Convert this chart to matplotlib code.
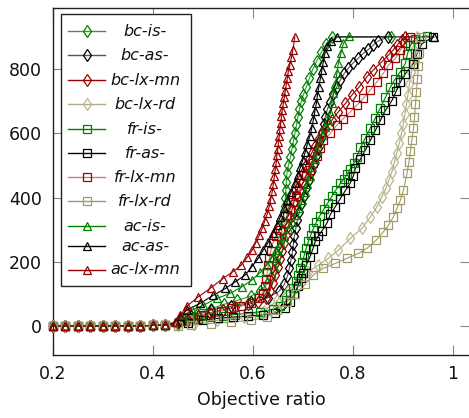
import matplotlib
matplotlib.use("Agg")
import matplotlib.pyplot as plt
from matplotlib.patches import Rectangle

flat = [(0.200, 1), (0.225, 1), (0.250, 1), (0.275, 1), (0.300, 1), (0.325, 1),
        (0.350, 1), (0.375, 1), (0.400, 2), (0.425, 3)]

bc_is = flat + [(0.449, 10), (0.463, 22), (0.489, 38), (0.516, 54), (0.543, 68), (0.569, 80),
        (0.596, 93), (0.615, 110), (0.628, 130), (0.636, 152), (0.642, 175), (0.647, 198),
        (0.651, 222), (0.654, 246), (0.657, 270), (0.658, 300), (0.660, 325), (0.662, 350),
        (0.664, 375), (0.665, 400), (0.666, 425), (0.667, 450), (0.668, 475), (0.671, 500),
        (0.675, 525), (0.678, 550), (0.681, 575), (0.684, 600), (0.687, 625), (0.690, 650),
        (0.693, 675), (0.697, 700), (0.701, 720), (0.707, 745), (0.713, 772), (0.720, 800),
        (0.728, 826), (0.737, 852), (0.747, 878), (0.759, 900), (0.877, 900)]

bc_as = flat + [(0.452, 12), (0.476, 30), (0.516, 50), (0.556, 62), (0.596, 74), (0.630, 88),
        (0.652, 108), (0.663, 130), (0.669, 155), (0.673, 180), (0.676, 205), (0.679, 230),
        (0.681, 255), (0.683, 280), (0.686, 305), (0.689, 330), (0.693, 355), (0.697, 380),
        (0.702, 405), (0.707, 430), (0.712, 455), (0.717, 480), (0.722, 505), (0.727, 530),
        (0.731, 555), (0.735, 580), (0.738, 605), (0.742, 630), (0.745, 652), (0.749, 675),
        (0.755, 698), (0.761, 722), (0.768, 745), (0.775, 766), (0.783, 787), (0.791, 803),
        (0.801, 820), (0.811, 834), (0.821, 849), (0.831, 861), (0.841, 875), (0.851, 888),
        (0.870, 900)]

bc_lx_mn = flat + [(0.450, 8), (0.470, 20), (0.490, 30), (0.515, 40), (0.540, 50), (0.565, 60),
        (0.590, 68), (0.610, 75), (0.626, 88), (0.634, 110), (0.640, 135), (0.645, 160),
        (0.650, 185), (0.655, 210), (0.659, 235), (0.663, 260), (0.667, 285), (0.671, 310),
        (0.675, 335), (0.678, 360), (0.682, 385), (0.686, 408), (0.690, 432), (0.695, 455),
        (0.700, 478), (0.706, 500), (0.712, 520), (0.718, 540), (0.724, 560), (0.731, 580),
        (0.738, 600), (0.745, 615), (0.758, 641), (0.771, 667), (0.785, 693), (0.798, 719),
        (0.813, 745), (0.828, 776), (0.841, 797), (0.858, 823), (0.872, 845), (0.881, 860),
        (0.889, 875), (0.898, 890), (0.905, 900)]

bc_lx_rd = flat + [(0.450, 4), (0.483, 8), (0.529, 18), (0.583, 29), (0.623, 48), (0.649, 80),
        (0.670, 110), (0.690, 140), (0.711, 169), (0.731, 190), (0.751, 211), (0.771, 237),
        (0.795, 273), (0.818, 304), (0.835, 340), (0.848, 371), (0.858, 402), (0.866, 430),
        (0.872, 455), (0.878, 480), (0.883, 510), (0.888, 540), (0.893, 570), (0.897, 600),
        (0.901, 630), (0.904, 660), (0.907, 690), (0.910, 720), (0.913, 755), (0.917, 790),
        (0.920, 825), (0.923, 860), (0.928, 900)]

fr_is = flat + [(0.465, 15), (0.490, 22), (0.515, 28), (0.540, 32), (0.565, 36), (0.590, 40),
        (0.615, 45), (0.640, 52), (0.655, 62), (0.667, 80), (0.675, 100), (0.681, 120),
        (0.686, 140), (0.691, 160), (0.695, 180), (0.699, 200), (0.703, 222), (0.707, 244),
        (0.711, 264), (0.716, 284), (0.721, 304), (0.727, 324), (0.734, 344), (0.742, 364),
        (0.750, 384), (0.758, 404), (0.766, 424), (0.775, 444), (0.782, 458), (0.788, 472),
        (0.795, 490), (0.802, 508), (0.808, 527), (0.815, 556), (0.825, 586), (0.835, 617),
        (0.845, 648), (0.855, 680), (0.865, 712), (0.875, 744), (0.885, 770), (0.895, 792),
        (0.905, 818), (0.909, 847), (0.915, 874), (0.925, 895), (0.948, 904)]

fr_as = flat + [(0.470, 10), (0.500, 18), (0.530, 24), (0.560, 28), (0.590, 31), (0.620, 35),
        (0.645, 40), (0.665, 55), (0.675, 75), (0.683, 100), (0.690, 125), (0.696, 150),
        (0.700, 165), (0.707, 190), (0.714, 215), (0.720, 240), (0.725, 265), (0.731, 281),
        (0.738, 296), (0.748, 320), (0.755, 348), (0.765, 372), (0.775, 397), (0.785, 422),
        (0.795, 446), (0.801, 468), (0.805, 491), (0.815, 520), (0.825, 548), (0.835, 578),
        (0.845, 609), (0.855, 640), (0.865, 671), (0.878, 702), (0.887, 733), (0.895, 760),
        (0.905, 786), (0.921, 817), (0.928, 848), (0.938, 879), (0.961, 900)]

fr_lx_mn = flat + [(0.456, 15), (0.476, 28), (0.496, 36), (0.516, 42), (0.536, 48), (0.556, 55),
        (0.576, 62), (0.596, 72), (0.612, 86), (0.620, 104), (0.624, 124), (0.627, 146),
        (0.629, 168), (0.631, 190), (0.633, 212), (0.636, 235), (0.640, 258), (0.646, 280),
        (0.655, 300), (0.664, 320), (0.668, 345), (0.675, 365), (0.680, 385), (0.686, 405),
        (0.693, 425), (0.700, 445), (0.707, 466), (0.714, 487), (0.721, 508), (0.728, 530),
        (0.735, 553), (0.741, 579), (0.755, 600), (0.768, 626), (0.781, 646), (0.795, 667),
        (0.808, 688), (0.821, 709), (0.835, 735), (0.848, 760), (0.861, 787), (0.871, 812),
        (0.885, 833), (0.895, 859), (0.905, 880), (0.915, 901)]

fr_lx_rd = flat + [(0.450, 1), (0.476, 3), (0.516, 8), (0.556, 12), (0.596, 18), (0.629, 28),
        (0.649, 50), (0.668, 75), (0.685, 100), (0.705, 130), (0.721, 159), (0.741, 180),
        (0.765, 195), (0.788, 211), (0.811, 226), (0.828, 242), (0.847, 268), (0.861, 294),
        (0.871, 314), (0.881, 340), (0.888, 366), (0.895, 392), (0.901, 423), (0.908, 475),
        (0.912, 510), (0.915, 545), (0.918, 580), (0.921, 615), (0.923, 650), (0.925, 690),
        (0.927, 730), (0.929, 770), (0.931, 810), (0.933, 850), (0.936, 900)]

ac_is = flat + [(0.447, 12), (0.460, 32), (0.478, 50), (0.501, 65), (0.528, 86), (0.555, 102),
        (0.578, 122), (0.598, 143), (0.615, 167), (0.628, 190), (0.638, 213), (0.646, 236),
        (0.654, 258), (0.662, 280), (0.670, 302), (0.678, 324), (0.686, 346), (0.693, 368),
        (0.699, 392), (0.704, 418), (0.709, 443), (0.714, 468), (0.719, 494), (0.724, 519),
        (0.729, 544), (0.734, 570), (0.738, 595), (0.745, 620), (0.751, 641), (0.755, 662),
        (0.758, 693), (0.761, 724), (0.765, 755), (0.768, 787), (0.771, 818), (0.776, 849),
        (0.781, 880), (0.793, 904)]

ac_as = flat + [(0.447, 12), (0.455, 30), (0.468, 50), (0.495, 71), (0.521, 96), (0.545, 117),
        (0.565, 138), (0.585, 159), (0.598, 185), (0.611, 211), (0.621, 237), (0.631, 262),
        (0.640, 289), (0.648, 314), (0.655, 340), (0.663, 366), (0.669, 392), (0.677, 418),
        (0.684, 444), (0.690, 470), (0.695, 494), (0.700, 518), (0.705, 543), (0.709, 567),
        (0.714, 592), (0.718, 618), (0.721, 643), (0.724, 668), (0.727, 694), (0.729, 719),
        (0.732, 745), (0.735, 771), (0.738, 797), (0.741, 823), (0.744, 849), (0.749, 872),
        (0.757, 888), (0.769, 900), (0.962, 900)]

ac_lx_mn = flat + [(0.445, 12), (0.455, 34), (0.468, 62), (0.491, 91), (0.517, 120), (0.540, 148),
        (0.560, 169), (0.577, 190), (0.589, 214), (0.599, 237), (0.606, 260), (0.613, 283),
        (0.619, 305), (0.624, 328), (0.629, 351), (0.633, 373), (0.636, 397), (0.639, 420),
        (0.641, 443), (0.643, 466), (0.645, 489), (0.647, 511), (0.648, 532), (0.650, 552),
        (0.651, 572), (0.653, 593), (0.654, 613), (0.656, 633), (0.657, 653), (0.659, 673),
        (0.661, 693), (0.663, 713), (0.665, 733), (0.667, 753), (0.669, 773), (0.671, 793),
        (0.674, 813), (0.677, 836), (0.680, 860), (0.684, 900)]

labels = ["bc-is-", "bc-as-", "bc-lx-mn", "bc-lx-rd", "fr-is-", "fr-as-", "fr-lx-mn",
          "fr-lx-rd", "ac-is-", "ac-as-", "ac-lx-mn"]
series = [bc_is, bc_as, bc_lx_mn, bc_lx_rd, fr_is, fr_as, fr_lx_mn, fr_lx_rd, ac_is, ac_as, ac_lx_mn]

GREEN = "#008000"
RED = "#990000"
styles = [
    dict(marker="d", mec=GREEN, lc="#3a9a3a", ms=6.5),
    dict(marker="d", mec="#000000", lc="#555555", ms=6.5),
    dict(marker="d", mec=RED, lc=RED, ms=6.5),
    dict(marker="d", mec="#bcb890", lc="#b0ac80", ms=6.5),
    dict(marker="s", mec=GREEN, lc=GREEN, ms=5.6),
    dict(marker="s", mec="#000000", lc="#000000", ms=5.6),
    dict(marker="s", mec="#a00000", lc="#c88080", ms=5.6),
    dict(marker="s", mec="#a09c66", lc="#a09c66", ms=5.6),
    dict(marker="^", mec=GREEN, lc=GREEN, ms=5.2),
    dict(marker="^", mec="#000000", lc="#000000", ms=5.2),
    dict(marker="^", mec=RED, lc=RED, ms=5.2),
]

W, H = 469, 418
fig = plt.figure(figsize=(W / 100, H / 100), dpi=100)
L, R, T, B = 52.7, 470, 8, 355
ax = fig.add_axes([L / W, 1 - B / H, (R - L) / W, (B - T) / H])

for data, st in zip(series, styles):
    xs = [p[0] for p in data]
    ys = [p[1] for p in data]
    ax.plot(xs, ys, color=st["lc"], lw=0.8, zorder=2, clip_on=False)
    ax.plot(xs, ys, ls="none", marker=st["marker"], ms=st["ms"], mfc="none",
            mec=st["mec"], mew=0.9, zorder=3, clip_on=False)

ax.set_xlim(0.2, 1.034)
ax.set_ylim(-90, 990)
ax.set_xticks([0.2, 0.4, 0.6, 0.8, 1.0])
ax.set_xticklabels(["0.2", "0.4", "0.6", "0.8", "1"])
ax.set_yticks([0, 200, 400, 600, 800])
ax.tick_params(direction="in", length=7, width=0.8, color="#888888", top=True, right=True,
               labelsize=12.5, labelcolor="#111111")
ax.tick_params(axis="x", pad=7)
ax.tick_params(axis="y", pad=8)
for s in ax.spines.values():
    s.set_linewidth(1.0)
    s.set_color("#222222")
ax.set_xlabel("Objective ratio", fontsize=12.5, labelpad=6, color="#111111")

def fx(px):
    return (px - L) / (R - L)

def fy(py):
    return (B - py) / (B - T)

ax.add_patch(Rectangle((fx(61), fy(286)), fx(191) - fx(61), fy(14) - fy(286),
                       transform=ax.transAxes, facecolor="white", edgecolor="#222222",
                       lw=1.0, zorder=10))
rows = [31, 55, 80, 104, 129, 153, 177, 201, 226, 246, 270]
for lab, st, py in zip(labels, styles, rows):
    ax.plot([fx(68), fx(105)], [fy(py), fy(py)], transform=ax.transAxes, color=st["lc"],
            lw=1.0, zorder=11, clip_on=False)
    ax.plot([fx(86.5)], [fy(py)], transform=ax.transAxes, ls="none", marker=st["marker"],
            ms=st["ms"], mfc="none", mec=st["mec"], mew=0.9, zorder=12, clip_on=False)
    ax.text(fx(145), fy(py), lab, transform=ax.transAxes, ha="center", va="center",
            fontsize=11.5, style="italic", color="#111111", zorder=12)

fig.savefig("out.png", dpi=100)
